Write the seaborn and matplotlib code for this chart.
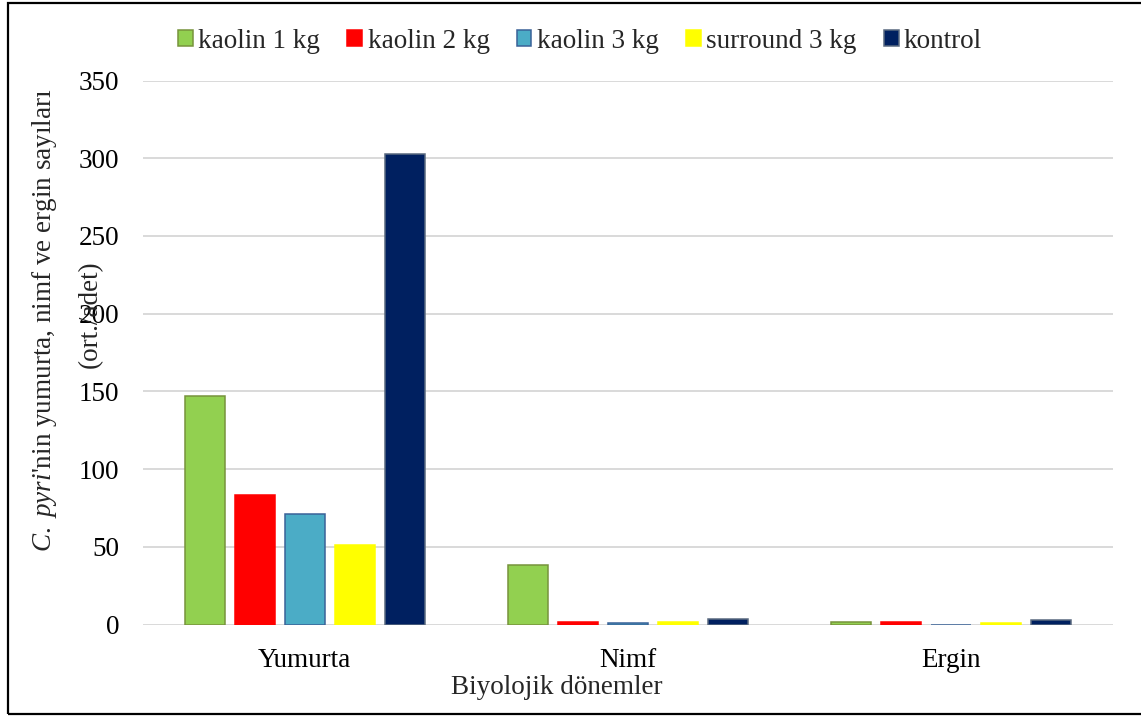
import matplotlib
matplotlib.use("Agg")
import matplotlib.pyplot as plt
from matplotlib.patches import Rectangle, Patch
import seaborn as sns
import pandas as pd

# Data: mean counts per biological stage and treatment
stages = ["Yumurta", "Nimf", "Ergin"]
treatments = ["kaolin 1 kg", "kaolin 2 kg", "kaolin 3 kg", "surround 3 kg", "kontrol"]
kaolin_1kg = [147, 38, 1.5]
kaolin_2kg = [83, 1.5, 1.5]
kaolin_3kg = [71, 1.0, 0.0]
surround_3kg = [51, 1.3, 1.0]
kontrol = [303, 3.5, 3.0]
yticks = [0, 50, 100, 150, 200, 250, 300, 350]

fill_colors = ["#92d050", "#ff0000", "#4bacc6", "#ffff00", "#002060"]
edge_colors = ["#77933c", "#ff0000", "#3a6298", "#ffff00", "#5a6a80"]

series = [kaolin_1kg, kaolin_2kg, kaolin_3kg, surround_3kg, kontrol]
rows = []
for name, vals in zip(treatments, series):
    for stage, v in zip(stages, vals):
        rows.append({"Dönem": stage, "Uygulama": name, "Sayı": v})
df = pd.DataFrame(rows)

sns.set_theme(style="white")
plt.rcParams["font.family"] = ["Liberation Serif", "DejaVu Serif"]
plt.rcParams["mathtext.fontset"] = "custom"
plt.rcParams["mathtext.it"] = "Liberation Serif:italic"
plt.rcParams["mathtext.rm"] = "Liberation Serif"

fig = plt.figure(figsize=(11.41, 7.16), dpi=100)
ax = fig.add_axes([143 / 1141, 1 - 624.5 / 716, (1113 - 143) / 1141, (624.5 - 80.5) / 716])

sns.barplot(data=df, x="Dönem", y="Sayı", hue="Uygulama", order=stages,
            hue_order=treatments, palette=fill_colors, saturation=1,
            width=0.774, gap=0.2, errorbar=None, legend=False, ax=ax, zorder=3)

for cont, ec in zip(ax.containers, edge_colors):
    for bar in cont:
        bar.set_edgecolor(ec)
        bar.set_linewidth(1.1)

ax.set_ylim(0, 350)
ax.set_xlim(-0.5, 2.5)
ax.set_yticks(yticks)
ax.grid(axis="y", color="#d9d9d9", linewidth=1.4, zorder=0)
ax.set_axisbelow(True)
for s in ax.spines.values():
    s.set_visible(False)
ax.tick_params(axis="both", length=0, labelsize=19.5, colors="black")
ax.tick_params(axis="y", pad=17)
ax.tick_params(axis="x", pad=17)
ax.set_xlabel("")
ax.set_ylabel("")

# Axis titles
fig.text(557 / 1141, 1 - 687 / 716, "Biyolojik dönemler", ha="center", va="center",
         fontsize=19.5)
fig.text(45 / 1141, 1 - 320 / 716,
         r"$\mathit{C.\ pyri}$'nin yumurta, nimf ve ergin sayıları",
         rotation=90, ha="center", va="center", fontsize=19.5)
fig.text(90 / 1141, 1 - 314 / 716, "(ort./adet)", rotation=90, ha="center",
         va="center", fontsize=19.5)

# Legend
handles = [Patch(facecolor=fc, edgecolor=ec, linewidth=1.1)
           for fc, ec in zip(fill_colors, edge_colors)]
fig.legend(handles, treatments, loc="center", bbox_to_anchor=(580 / 1141, 1 - 41 / 716),
           ncol=5, frameon=False, fontsize=19.5, handlelength=0.55, handleheight=0.55,
           handletextpad=0.2, columnspacing=1.0, borderpad=0)

# Outer frame
fig.patches.append(Rectangle((8 / 1141, 1 - 714 / 716), 1.2, (714 - 3) / 716,
                             transform=fig.transFigure, fill=False,
                             edgecolor="black", linewidth=1.6))

fig.savefig("out.png", dpi=100)
